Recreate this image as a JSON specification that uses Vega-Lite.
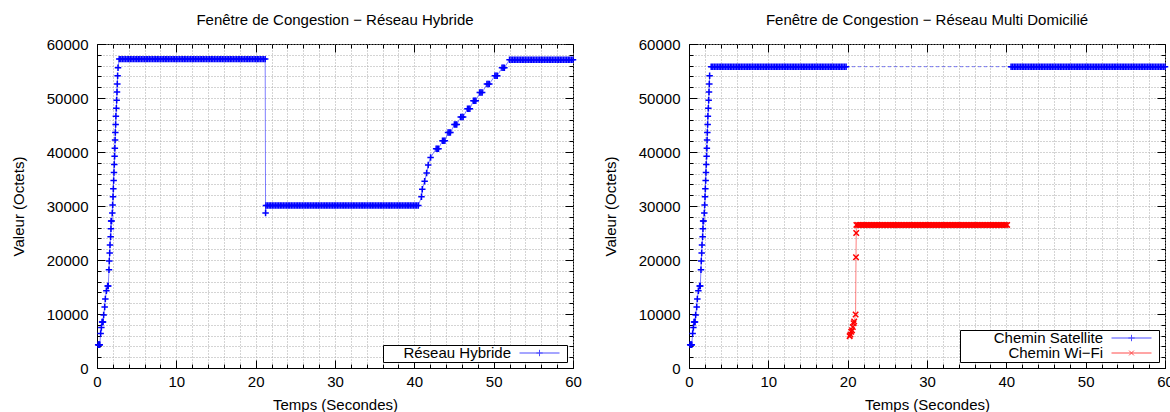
{
"$schema":"https://vega.github.io/schema/vega-lite/v6.json",
"background":"white",
"padding":{"left":10,"top":12,"right":0,"bottom":0},
"config":{
 "font":"Liberation Sans",
 "view":{"stroke":"black","strokeWidth":1},
 "title":{"fontSize":15,"fontWeight":"normal","color":"black","offset":9},
 "axis":{"domainColor":"black","domainWidth":1,"tickColor":"black","tickWidth":1,"labelColor":"black","titleColor":"black","labelFontSize":15,"titleFontSize":15,"titleFontWeight":"normal","gridColor":"#a8a8a8","gridDash":[1,2],"gridWidth":1,"labelOverlap":false,"labelFlush":false},
 "legend":{"orient":"bottom-right","title":null,"strokeColor":"black","fillColor":"white","padding":1,"offset":6,"labelFontSize":15,"labelColor":"black","labelAlign":"right","labelOffset":6,"labelLimit":400,"symbolSize":1600,"symbolStrokeWidth":1,"rowPadding":0,"clipHeight":14,"symbolOpacity":0.7}
},
"datasets":{
 "ramp":[{"t":0.15,"v":4300},{"t":0.2,"v":4300},{"t":0.25,"v":4300},{"t":0.3,"v":4300},{"t":0.35,"v":4300},{"t":0.46,"v":6400},{"t":0.55,"v":7500},{"t":0.64,"v":8500},{"t":0.7,"v":8500},{"t":0.76,"v":8500},{"t":0.84,"v":9800},{"t":0.97,"v":11300},{"t":1.05,"v":12800},{"t":1.18,"v":14300},{"t":1.34,"v":15200},{"t":1.42,"v":15200},{"t":1.51,"v":18200},{"t":1.55,"v":19800},{"t":1.6,"v":21300},{"t":1.64,"v":22800},{"t":1.72,"v":24300},{"t":1.76,"v":25800},{"t":1.78,"v":27200},{"t":1.84,"v":27200},{"t":1.93,"v":28700},{"t":1.97,"v":30200},{"t":2.02,"v":31700},{"t":2.06,"v":33200},{"t":2.1,"v":34700},{"t":2.14,"v":36200},{"t":2.18,"v":37700},{"t":2.22,"v":39200},{"t":2.25,"v":40700},{"t":2.28,"v":42200},{"t":2.31,"v":43600},{"t":2.35,"v":45100},{"t":2.38,"v":46600},{"t":2.44,"v":48100},{"t":2.48,"v":49600},{"t":2.52,"v":51100},{"t":2.56,"v":52600},{"t":2.6,"v":54100}],
 "hyb":[{"t":2.65,"v":55600},
{"t":2.8,"v":57200},{"t":3,"v":57200},{"t":3.2,"v":57200},{"t":3.4,"v":57200},{"t":3.6,"v":57200},{"t":3.8,"v":57200},{"t":4,"v":57200},{"t":4.2,"v":57200},{"t":4.4,"v":57200},{"t":4.6,"v":57200},{"t":4.8,"v":57200},{"t":5,"v":57200},{"t":5.2,"v":57200},{"t":5.4,"v":57200},{"t":5.6,"v":57200},{"t":5.8,"v":57200},{"t":6,"v":57200},{"t":6.2,"v":57200},{"t":6.4,"v":57200},{"t":6.6,"v":57200},{"t":6.8,"v":57200},{"t":7,"v":57200},{"t":7.2,"v":57200},{"t":7.4,"v":57200},{"t":7.6,"v":57200},{"t":7.8,"v":57200},{"t":8,"v":57200},{"t":8.2,"v":57200},{"t":8.4,"v":57200},{"t":8.6,"v":57200},{"t":8.8,"v":57200},{"t":9,"v":57200},{"t":9.2,"v":57200},{"t":9.4,"v":57200},{"t":9.6,"v":57200},{"t":9.8,"v":57200},{"t":10,"v":57200},{"t":10.2,"v":57200},{"t":10.4,"v":57200},{"t":10.6,"v":57200},{"t":10.8,"v":57200},{"t":11,"v":57200},{"t":11.2,"v":57200},{"t":11.4,"v":57200},{"t":11.6,"v":57200},{"t":11.8,"v":57200},{"t":12,"v":57200},{"t":12.2,"v":57200},{"t":12.4,"v":57200},{"t":12.6,"v":57200},{"t":12.8,"v":57200},{"t":13,"v":57200},{"t":13.2,"v":57200},{"t":13.4,"v":57200},{"t":13.6,"v":57200},{"t":13.8,"v":57200},{"t":14,"v":57200},{"t":14.2,"v":57200},{"t":14.4,"v":57200},{"t":14.6,"v":57200},{"t":14.8,"v":57200},{"t":15,"v":57200},{"t":15.2,"v":57200},{"t":15.4,"v":57200},{"t":15.6,"v":57200},{"t":15.8,"v":57200},{"t":16,"v":57200},{"t":16.2,"v":57200},{"t":16.4,"v":57200},{"t":16.6,"v":57200},{"t":16.8,"v":57200},{"t":17,"v":57200},{"t":17.2,"v":57200},{"t":17.4,"v":57200},{"t":17.6,"v":57200},{"t":17.8,"v":57200},{"t":18,"v":57200},{"t":18.2,"v":57200},{"t":18.4,"v":57200},{"t":18.6,"v":57200},{"t":18.8,"v":57200},{"t":19,"v":57200},{"t":19.2,"v":57200},{"t":19.4,"v":57200},{"t":19.6,"v":57200},{"t":19.8,"v":57200},{"t":20,"v":57200},{"t":20.2,"v":57200},{"t":20.4,"v":57200},{"t":20.6,"v":57200},{"t":20.8,"v":57200},{"t":21,"v":57200},{"t":21.2,"v":57200},
{"t":21.25,"v":28700},
{"t":21.3,"v":30100},{"t":21.5,"v":30100},{"t":21.7,"v":30100},{"t":21.9,"v":30100},{"t":22.1,"v":30100},{"t":22.3,"v":30100},{"t":22.5,"v":30100},{"t":22.7,"v":30100},{"t":22.9,"v":30100},{"t":23.1,"v":30100},{"t":23.3,"v":30100},{"t":23.5,"v":30100},{"t":23.7,"v":30100},{"t":23.9,"v":30100},{"t":24.1,"v":30100},{"t":24.3,"v":30100},{"t":24.5,"v":30100},{"t":24.7,"v":30100},{"t":24.9,"v":30100},{"t":25.1,"v":30100},{"t":25.3,"v":30100},{"t":25.5,"v":30100},{"t":25.7,"v":30100},{"t":25.9,"v":30100},{"t":26.1,"v":30100},{"t":26.3,"v":30100},{"t":26.5,"v":30100},{"t":26.7,"v":30100},{"t":26.9,"v":30100},{"t":27.1,"v":30100},{"t":27.3,"v":30100},{"t":27.5,"v":30100},{"t":27.7,"v":30100},{"t":27.9,"v":30100},{"t":28.1,"v":30100},{"t":28.3,"v":30100},{"t":28.5,"v":30100},{"t":28.7,"v":30100},{"t":28.9,"v":30100},{"t":29.1,"v":30100},{"t":29.3,"v":30100},{"t":29.5,"v":30100},{"t":29.7,"v":30100},{"t":29.9,"v":30100},{"t":30.1,"v":30100},{"t":30.3,"v":30100},{"t":30.5,"v":30100},{"t":30.7,"v":30100},{"t":30.9,"v":30100},{"t":31.1,"v":30100},{"t":31.3,"v":30100},{"t":31.5,"v":30100},{"t":31.7,"v":30100},{"t":31.9,"v":30100},{"t":32.1,"v":30100},{"t":32.3,"v":30100},{"t":32.5,"v":30100},{"t":32.7,"v":30100},{"t":32.9,"v":30100},{"t":33.1,"v":30100},{"t":33.3,"v":30100},{"t":33.5,"v":30100},{"t":33.7,"v":30100},{"t":33.9,"v":30100},{"t":34.1,"v":30100},{"t":34.3,"v":30100},{"t":34.5,"v":30100},{"t":34.7,"v":30100},{"t":34.9,"v":30100},{"t":35.1,"v":30100},{"t":35.3,"v":30100},{"t":35.5,"v":30100},{"t":35.7,"v":30100},{"t":35.9,"v":30100},{"t":36.1,"v":30100},{"t":36.3,"v":30100},{"t":36.5,"v":30100},{"t":36.7,"v":30100},{"t":36.9,"v":30100},{"t":37.1,"v":30100},{"t":37.3,"v":30100},{"t":37.5,"v":30100},{"t":37.7,"v":30100},{"t":37.9,"v":30100},{"t":38.1,"v":30100},{"t":38.3,"v":30100},{"t":38.5,"v":30100},{"t":38.7,"v":30100},{"t":38.9,"v":30100},{"t":39.1,"v":30100},{"t":39.3,"v":30100},{"t":39.5,"v":30100},{"t":39.7,"v":30100},{"t":39.9,"v":30100},{"t":40.1,"v":30100},{"t":40.3,"v":30100},{"t":40.5,"v":30100},
{"t":40.9,"v":31700},{"t":41.0,"v":33100},{"t":41.3,"v":34600},{"t":41.55,"v":36100},{"t":41.75,"v":37600},{"t":42.05,"v":39000},
{"t":42.75,"v":40600},{"t":42.9,"v":40600},{"t":43.05,"v":40600},
{"t":43.55,"v":42100},{"t":43.7,"v":42100},{"t":43.85,"v":42100},
{"t":44.25,"v":43600},{"t":44.4,"v":43600},{"t":44.55,"v":43600},
{"t":45.05,"v":45100},{"t":45.2,"v":45100},{"t":45.35,"v":45100},
{"t":45.85,"v":46500},{"t":46,"v":46500},{"t":46.15,"v":46500},
{"t":46.7,"v":48000},{"t":46.85,"v":48000},{"t":47,"v":48000},
{"t":47.45,"v":49500},{"t":47.6,"v":49500},{"t":47.75,"v":49500},
{"t":48.25,"v":51000},{"t":48.4,"v":51000},{"t":48.55,"v":51000},
{"t":49.15,"v":52600},{"t":49.3,"v":52600},{"t":49.45,"v":52600},
{"t":50.15,"v":54100},{"t":50.3,"v":54100},{"t":50.45,"v":54100},
{"t":51.05,"v":55600},{"t":51.2,"v":55600},{"t":51.35,"v":55600},
{"t":52,"v":57100},{"t":52.2,"v":57100},{"t":52.4,"v":57100},{"t":52.6,"v":57100},{"t":52.8,"v":57100},{"t":53,"v":57100},{"t":53.2,"v":57100},{"t":53.4,"v":57100},{"t":53.6,"v":57100},{"t":53.8,"v":57100},{"t":54,"v":57100},{"t":54.2,"v":57100},{"t":54.4,"v":57100},{"t":54.6,"v":57100},{"t":54.8,"v":57100},{"t":55,"v":57100},{"t":55.2,"v":57100},{"t":55.4,"v":57100},{"t":55.6,"v":57100},{"t":55.8,"v":57100},{"t":56,"v":57100},{"t":56.2,"v":57100},{"t":56.4,"v":57100},{"t":56.6,"v":57100},{"t":56.8,"v":57100},{"t":57,"v":57100},{"t":57.2,"v":57100},{"t":57.4,"v":57100},{"t":57.6,"v":57100},{"t":57.8,"v":57100},{"t":58,"v":57100},{"t":58.2,"v":57100},{"t":58.4,"v":57100},{"t":58.6,"v":57100},{"t":58.8,"v":57100},{"t":59,"v":57100},{"t":59.2,"v":57100},{"t":59.4,"v":57100},{"t":59.6,"v":57100},{"t":59.8,"v":57100},{"t":60,"v":57100}],
 "sat1":[{"t":2.8,"v":55800},{"t":3,"v":55800},{"t":3.2,"v":55800},{"t":3.4,"v":55800},{"t":3.6,"v":55800},{"t":3.8,"v":55800},{"t":4,"v":55800},{"t":4.2,"v":55800},{"t":4.4,"v":55800},{"t":4.6,"v":55800},{"t":4.8,"v":55800},{"t":5,"v":55800},{"t":5.2,"v":55800},{"t":5.4,"v":55800},{"t":5.6,"v":55800},{"t":5.8,"v":55800},{"t":6,"v":55800},{"t":6.2,"v":55800},{"t":6.4,"v":55800},{"t":6.6,"v":55800},{"t":6.8,"v":55800},{"t":7,"v":55800},{"t":7.2,"v":55800},{"t":7.4,"v":55800},{"t":7.6,"v":55800},{"t":7.8,"v":55800},{"t":8,"v":55800},{"t":8.2,"v":55800},{"t":8.4,"v":55800},{"t":8.6,"v":55800},{"t":8.8,"v":55800},{"t":9,"v":55800},{"t":9.2,"v":55800},{"t":9.4,"v":55800},{"t":9.6,"v":55800},{"t":9.8,"v":55800},{"t":10,"v":55800},{"t":10.2,"v":55800},{"t":10.4,"v":55800},{"t":10.6,"v":55800},{"t":10.8,"v":55800},{"t":11,"v":55800},{"t":11.2,"v":55800},{"t":11.4,"v":55800},{"t":11.6,"v":55800},{"t":11.8,"v":55800},{"t":12,"v":55800},{"t":12.2,"v":55800},{"t":12.4,"v":55800},{"t":12.6,"v":55800},{"t":12.8,"v":55800},{"t":13,"v":55800},{"t":13.2,"v":55800},{"t":13.4,"v":55800},{"t":13.6,"v":55800},{"t":13.8,"v":55800},{"t":14,"v":55800},{"t":14.2,"v":55800},{"t":14.4,"v":55800},{"t":14.6,"v":55800},{"t":14.8,"v":55800},{"t":15,"v":55800},{"t":15.2,"v":55800},{"t":15.4,"v":55800},{"t":15.6,"v":55800},{"t":15.8,"v":55800},{"t":16,"v":55800},{"t":16.2,"v":55800},{"t":16.4,"v":55800},{"t":16.6,"v":55800},{"t":16.8,"v":55800},{"t":17,"v":55800},{"t":17.2,"v":55800},{"t":17.4,"v":55800},{"t":17.6,"v":55800},{"t":17.8,"v":55800},{"t":18,"v":55800},{"t":18.2,"v":55800},{"t":18.4,"v":55800},{"t":18.6,"v":55800},{"t":18.8,"v":55800},{"t":19,"v":55800},{"t":19.2,"v":55800},{"t":19.4,"v":55800},{"t":19.6,"v":55800},{"t":19.8,"v":55800}],
 "sat2":[{"t":40.6,"v":55800},{"t":40.8,"v":55800},{"t":41,"v":55800},{"t":41.2,"v":55800},{"t":41.4,"v":55800},{"t":41.6,"v":55800},{"t":41.8,"v":55800},{"t":42,"v":55800},{"t":42.2,"v":55800},{"t":42.4,"v":55800},{"t":42.6,"v":55800},{"t":42.8,"v":55800},{"t":43,"v":55800},{"t":43.2,"v":55800},{"t":43.4,"v":55800},{"t":43.6,"v":55800},{"t":43.8,"v":55800},{"t":44,"v":55800},{"t":44.2,"v":55800},{"t":44.4,"v":55800},{"t":44.6,"v":55800},{"t":44.8,"v":55800},{"t":45,"v":55800},{"t":45.2,"v":55800},{"t":45.4,"v":55800},{"t":45.6,"v":55800},{"t":45.8,"v":55800},{"t":46,"v":55800},{"t":46.2,"v":55800},{"t":46.4,"v":55800},{"t":46.6,"v":55800},{"t":46.8,"v":55800},{"t":47,"v":55800},{"t":47.2,"v":55800},{"t":47.4,"v":55800},{"t":47.6,"v":55800},{"t":47.8,"v":55800},{"t":48,"v":55800},{"t":48.2,"v":55800},{"t":48.4,"v":55800},{"t":48.6,"v":55800},{"t":48.8,"v":55800},{"t":49,"v":55800},{"t":49.2,"v":55800},{"t":49.4,"v":55800},{"t":49.6,"v":55800},{"t":49.8,"v":55800},{"t":50,"v":55800},{"t":50.2,"v":55800},{"t":50.4,"v":55800},{"t":50.6,"v":55800},{"t":50.8,"v":55800},{"t":51,"v":55800},{"t":51.2,"v":55800},{"t":51.4,"v":55800},{"t":51.6,"v":55800},{"t":51.8,"v":55800},{"t":52,"v":55800},{"t":52.2,"v":55800},{"t":52.4,"v":55800},{"t":52.6,"v":55800},{"t":52.8,"v":55800},{"t":53,"v":55800},{"t":53.2,"v":55800},{"t":53.4,"v":55800},{"t":53.6,"v":55800},{"t":53.8,"v":55800},{"t":54,"v":55800},{"t":54.2,"v":55800},{"t":54.4,"v":55800},{"t":54.6,"v":55800},{"t":54.8,"v":55800},{"t":55,"v":55800},{"t":55.2,"v":55800},{"t":55.4,"v":55800},{"t":55.6,"v":55800},{"t":55.8,"v":55800},{"t":56,"v":55800},{"t":56.2,"v":55800},{"t":56.4,"v":55800},{"t":56.6,"v":55800},{"t":56.8,"v":55800},{"t":57,"v":55800},{"t":57.2,"v":55800},{"t":57.4,"v":55800},{"t":57.6,"v":55800},{"t":57.8,"v":55800},{"t":58,"v":55800},{"t":58.2,"v":55800},{"t":58.4,"v":55800},{"t":58.6,"v":55800},{"t":58.8,"v":55800},{"t":59,"v":55800},{"t":59.2,"v":55800},{"t":59.4,"v":55800},{"t":59.6,"v":55800},{"t":59.8,"v":55800},{"t":60,"v":55800}],
 "gap":[{"t":19.8,"t2":40.6,"v":55800}],
 "wifi":[{"t":20.25,"v":5900},{"t":20.35,"v":6200},{"t":20.45,"v":6700},{"t":20.55,"v":7000},{"t":20.65,"v":7600},{"t":20.75,"v":8300},{"t":20.82,"v":8600},{"t":21.0,"v":9900},{"t":21.05,"v":20500},{"t":21.08,"v":25000},
{"t":21.1,"v":26500},{"t":21.3,"v":26500},{"t":21.5,"v":26500},{"t":21.7,"v":26500},{"t":21.9,"v":26500},{"t":22.1,"v":26500},{"t":22.3,"v":26500},{"t":22.5,"v":26500},{"t":22.7,"v":26500},{"t":22.9,"v":26500},{"t":23.1,"v":26500},{"t":23.3,"v":26500},{"t":23.5,"v":26500},{"t":23.7,"v":26500},{"t":23.9,"v":26500},{"t":24.1,"v":26500},{"t":24.3,"v":26500},{"t":24.5,"v":26500},{"t":24.7,"v":26500},{"t":24.9,"v":26500},{"t":25.1,"v":26500},{"t":25.3,"v":26500},{"t":25.5,"v":26500},{"t":25.7,"v":26500},{"t":25.9,"v":26500},{"t":26.1,"v":26500},{"t":26.3,"v":26500},{"t":26.5,"v":26500},{"t":26.7,"v":26500},{"t":26.9,"v":26500},{"t":27.1,"v":26500},{"t":27.3,"v":26500},{"t":27.5,"v":26500},{"t":27.7,"v":26500},{"t":27.9,"v":26500},{"t":28.1,"v":26500},{"t":28.3,"v":26500},{"t":28.5,"v":26500},{"t":28.7,"v":26500},{"t":28.9,"v":26500},{"t":29.1,"v":26500},{"t":29.3,"v":26500},{"t":29.5,"v":26500},{"t":29.7,"v":26500},{"t":29.9,"v":26500},{"t":30.1,"v":26500},{"t":30.3,"v":26500},{"t":30.5,"v":26500},{"t":30.7,"v":26500},{"t":30.9,"v":26500},{"t":31.1,"v":26500},{"t":31.3,"v":26500},{"t":31.5,"v":26500},{"t":31.7,"v":26500},{"t":31.9,"v":26500},{"t":32.1,"v":26500},{"t":32.3,"v":26500},{"t":32.5,"v":26500},{"t":32.7,"v":26500},{"t":32.9,"v":26500},{"t":33.1,"v":26500},{"t":33.3,"v":26500},{"t":33.5,"v":26500},{"t":33.7,"v":26500},{"t":33.9,"v":26500},{"t":34.1,"v":26500},{"t":34.3,"v":26500},{"t":34.5,"v":26500},{"t":34.7,"v":26500},{"t":34.9,"v":26500},{"t":35.1,"v":26500},{"t":35.3,"v":26500},{"t":35.5,"v":26500},{"t":35.7,"v":26500},{"t":35.9,"v":26500},{"t":36.1,"v":26500},{"t":36.3,"v":26500},{"t":36.5,"v":26500},{"t":36.7,"v":26500},{"t":36.9,"v":26500},{"t":37.1,"v":26500},{"t":37.3,"v":26500},{"t":37.5,"v":26500},{"t":37.7,"v":26500},{"t":37.9,"v":26500},{"t":38.1,"v":26500},{"t":38.3,"v":26500},{"t":38.5,"v":26500},{"t":38.7,"v":26500},{"t":38.9,"v":26500},{"t":39.1,"v":26500},{"t":39.3,"v":26500},{"t":39.5,"v":26500},{"t":39.7,"v":26500},{"t":39.9,"v":26500},{"t":40.1,"v":26500}]
},
"resolve":{"scale":{"color":"independent"},"legend":{"color":"independent"}},
"spacing":20,
"hconcat":[
 {"width":476,"height":324,"title":"Fenêtre de Congestion − Réseau Hybride",
  "resolve":{"axis":{"x":"independent","y":"independent"}},
  "layer":[
   {"data":{"name":"ramp"},"mark":{"type":"line","strokeWidth":1,"opacity":0.5},
    "encoding":{
     "x":{"field":"t","type":"quantitative","scale":{"domain":[0,60],"nice":false,"zero":false},
      "axis":{"orient":"bottom","values":[0,2,4,6,8,10,12,14,16,18,20,22,24,26,28,30,32,34,36,38,40,42,44,46,48,50,52,54,56,58,60],"title":"Temps (Secondes)","labelExpr":"datum.value % 10 === 0 ? datum.label : ''","tickSize":{"condition":{"test":"datum.value % 10 === 0","value":-8},"value":-4},"labelPadding":14,"grid":true,"titlePadding":4}},
     "y":{"field":"v","type":"quantitative","scale":{"domain":[0,60000],"nice":false},
      "axis":{"orient":"left","values":[0,2000,4000,6000,8000,10000,12000,14000,16000,18000,20000,22000,24000,26000,28000,30000,32000,34000,36000,38000,40000,42000,44000,46000,48000,50000,52000,54000,56000,58000,60000],"title":"Valeur (Octets)","format":"d","labelExpr":"datum.value % 10000 === 0 ? datum.label : ''","tickSize":{"condition":{"test":"datum.value % 10000 === 0","value":-8},"value":-4},"labelPadding":17,"grid":true,"titlePadding":20}},
     "color":{"datum":"Réseau Hybride","type":"nominal","scale":{"domain":["Réseau Hybride"],"range":["#0000ff"]},"legend":{"symbolType":"M-1,0L1,0M0,-0.16L0,0.16M-0.16,0L0.16,0","symbolOffset":135,"labelExpr":"datum.label + '\u2800\u2800\u2800\u2800\u2800'"}}}},
   {"data":{"name":"hyb"},"mark":{"type":"line","strokeWidth":1,"opacity":0.5},
    "encoding":{"x":{"field":"t","type":"quantitative","axis":null},"y":{"field":"v","type":"quantitative","axis":null},"color":{"datum":"Réseau Hybride","type":"nominal"}}},
   {"data":{"name":"ramp"},"mark":{"type":"point","shape":"M-1,0L1,0M0,-1L0,1","size":42,"filled":false,"strokeWidth":1.5,"opacity":1},
    "encoding":{"x":{"field":"t","type":"quantitative","axis":null},"y":{"field":"v","type":"quantitative","axis":null},"color":{"datum":"Réseau Hybride","type":"nominal"}}},
   {"data":{"name":"hyb"},"mark":{"type":"point","shape":"M-1,0L1,0M0,-1L0,1","size":42,"filled":false,"strokeWidth":1.5,"opacity":1},
    "encoding":{
     "x":{"field":"t","type":"quantitative","axis":{"orient":"top","values":[0,2,4,6,8,10,12,14,16,18,20,22,24,26,28,30,32,34,36,38,40,42,44,46,48,50,52,54,56,58,60],"labels":false,"title":null,"grid":false,"domain":false,"tickSize":{"condition":{"test":"datum.value % 10 === 0","value":-8},"value":-4}}},
     "y":{"field":"v","type":"quantitative","axis":{"orient":"right","values":[0,2000,4000,6000,8000,10000,12000,14000,16000,18000,20000,22000,24000,26000,28000,30000,32000,34000,36000,38000,40000,42000,44000,46000,48000,50000,52000,54000,56000,58000,60000],"labels":false,"title":null,"grid":false,"domain":false,"tickSize":{"condition":{"test":"datum.value % 10000 === 0","value":-8},"value":-4}}},
     "color":{"datum":"Réseau Hybride","type":"nominal"}}}
  ]},
 {"width":476,"height":324,"title":"Fenêtre de Congestion − Réseau Multi Domicilié",
  "resolve":{"axis":{"x":"independent","y":"independent"}},
  "layer":[
   {"data":{"name":"ramp"},"mark":{"type":"line","strokeWidth":1,"opacity":0.5},
    "encoding":{
     "x":{"field":"t","type":"quantitative","scale":{"domain":[0,60],"nice":false,"zero":false},
      "axis":{"orient":"bottom","values":[0,2,4,6,8,10,12,14,16,18,20,22,24,26,28,30,32,34,36,38,40,42,44,46,48,50,52,54,56,58,60],"title":"Temps (Secondes)","labelExpr":"datum.value % 10 === 0 ? datum.label : ''","tickSize":{"condition":{"test":"datum.value % 10 === 0","value":-8},"value":-4},"labelPadding":14,"grid":true,"titlePadding":4}},
     "y":{"field":"v","type":"quantitative","scale":{"domain":[0,60000],"nice":false},
      "axis":{"orient":"left","values":[0,2000,4000,6000,8000,10000,12000,14000,16000,18000,20000,22000,24000,26000,28000,30000,32000,34000,36000,38000,40000,42000,44000,46000,48000,50000,52000,54000,56000,58000,60000],"title":"Valeur (Octets)","format":"d","labelExpr":"datum.value % 10000 === 0 ? datum.label : ''","tickSize":{"condition":{"test":"datum.value % 10000 === 0","value":-8},"value":-4},"labelPadding":17,"grid":true,"titlePadding":20}},
     "color":{"datum":"Chemin Satellite","type":"nominal","scale":{"domain":["Chemin Satellite","Chemin Wi−Fi"],"range":["#0000ff","#ff0000"]},
      "legend":{"symbolType":"M-1,0L1,0M0,-0.16L0,0.16M-0.16,0L0.16,0","symbolOffset":150,"labelExpr":"datum.label + '\u2800\u2800\u2800\u2800\u2800'","encode":{"symbols":{"update":{"shape":{"signal":"datum.value === 'Chemin Wi−Fi' ? 'M-1,0L1,0M-0.12,-0.12L0.12,0.12M-0.12,0.12L0.12,-0.12' : 'M-1,0L1,0M0,-0.16L0,0.16M-0.16,0L0.16,0'"}}}}}}}},
   {"data":{"name":"gap"},"mark":{"type":"rule","strokeWidth":1,"opacity":0.5,"strokeDash":[3,3]},
    "encoding":{"x":{"field":"t","type":"quantitative","axis":null},"x2":{"field":"t2"},"y":{"field":"v","type":"quantitative","axis":null},"color":{"datum":"Chemin Satellite","type":"nominal"}}},
   {"data":{"name":"sat1"},"mark":{"type":"line","strokeWidth":1,"opacity":0.5},
    "encoding":{"x":{"field":"t","type":"quantitative","axis":null},"y":{"field":"v","type":"quantitative","axis":null},"color":{"datum":"Chemin Satellite","type":"nominal"}}},
   {"data":{"name":"sat2"},"mark":{"type":"line","strokeWidth":1,"opacity":0.5},
    "encoding":{"x":{"field":"t","type":"quantitative","axis":null},"y":{"field":"v","type":"quantitative","axis":null},"color":{"datum":"Chemin Satellite","type":"nominal"}}},
   {"data":{"name":"wifi"},"mark":{"type":"line","strokeWidth":1,"opacity":0.5},
    "encoding":{"x":{"field":"t","type":"quantitative","axis":null},"y":{"field":"v","type":"quantitative","axis":null},"color":{"datum":"Chemin Wi−Fi","type":"nominal"}}},
   {"data":{"name":"ramp"},"mark":{"type":"point","shape":"M-1,0L1,0M0,-1L0,1","size":42,"filled":false,"strokeWidth":1.5,"opacity":1},
    "encoding":{"x":{"field":"t","type":"quantitative","axis":null},"y":{"field":"v","type":"quantitative","axis":null},"color":{"datum":"Chemin Satellite","type":"nominal"}}},
   {"data":{"name":"sat1"},"mark":{"type":"point","shape":"M-1,0L1,0M0,-1L0,1","size":42,"filled":false,"strokeWidth":1.5,"opacity":1},
    "encoding":{"x":{"field":"t","type":"quantitative","axis":null},"y":{"field":"v","type":"quantitative","axis":null},"color":{"datum":"Chemin Satellite","type":"nominal"}}},
   {"data":{"name":"sat2"},"mark":{"type":"point","shape":"M-1,0L1,0M0,-1L0,1","size":42,"filled":false,"strokeWidth":1.5,"opacity":1},
    "encoding":{"x":{"field":"t","type":"quantitative","axis":null},"y":{"field":"v","type":"quantitative","axis":null},"color":{"datum":"Chemin Satellite","type":"nominal"}}},
   {"data":{"name":"wifi"},"mark":{"type":"point","shape":"M-1,-1L1,1M-1,1L1,-1","size":30,"filled":false,"strokeWidth":1.5,"opacity":1},
    "encoding":{
     "x":{"field":"t","type":"quantitative","axis":{"orient":"top","values":[0,2,4,6,8,10,12,14,16,18,20,22,24,26,28,30,32,34,36,38,40,42,44,46,48,50,52,54,56,58,60],"labels":false,"title":null,"grid":false,"domain":false,"tickSize":{"condition":{"test":"datum.value % 10 === 0","value":-8},"value":-4}}},
     "y":{"field":"v","type":"quantitative","axis":{"orient":"right","values":[0,2000,4000,6000,8000,10000,12000,14000,16000,18000,20000,22000,24000,26000,28000,30000,32000,34000,36000,38000,40000,42000,44000,46000,48000,50000,52000,54000,56000,58000,60000],"labels":false,"title":null,"grid":false,"domain":false,"tickSize":{"condition":{"test":"datum.value % 10000 === 0","value":-8},"value":-4}}},
     "color":{"datum":"Chemin Wi−Fi","type":"nominal"}}}
  ]}
]
}
